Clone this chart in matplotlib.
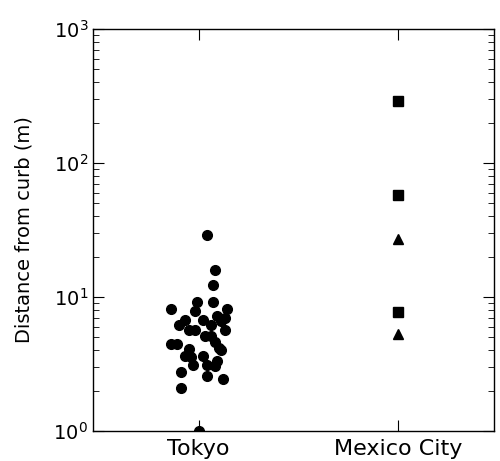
import numpy as np
import matplotlib
matplotlib.use("Agg")
import matplotlib.pyplot as plt

categories = ["Tokyo", "Mexico City"]

# Tokyo: jitter offset (x) and distance (m)
tokyo_dx = [0.04, 0.08, 0.07, -0.01, 0.07, -0.14, -0.02, 0.14, 0.09, 0.13,
            -0.07, 0.02, -0.10, 0.06, 0.11, -0.05, -0.02, 0.13, 0.03, 0.06,
            -0.14, -0.11, 0.08, 0.10, -0.05, 0.11, -0.07, -0.04, 0.02, 0.09,
            -0.03, 0.04, 0.08, -0.09, 0.04, 0.12, -0.09, 0.00]
tokyo_y = [29.0, 15.9, 12.3, 9.2, 9.2, 8.2, 7.9, 8.2, 7.2, 7.0,
           6.7, 6.7, 6.2, 6.2, 6.6, 5.65, 5.65, 5.65, 5.1, 5.1,
           4.5, 4.5, 4.6, 4.2, 4.1, 4.0, 3.64, 3.54, 3.6, 3.34,
           3.12, 3.12, 3.06, 2.74, 2.58, 2.44, 2.11, 1.0]

# Mexico City
mexico_sq = [290, 58, 7.7]
mexico_tri = [27, 5.3]

fig = plt.figure(figsize=(5.0, 4.61), dpi=100)
ax = fig.add_axes([0.186, 0.065, 0.802, 0.872])

ax.plot(1 + np.array(tokyo_dx), tokyo_y, 'o', color='k', ms=7, mec='k')
ax.plot([2] * len(mexico_sq), mexico_sq, 's', color='k', ms=6.5, mec='k')
ax.plot([2] * len(mexico_tri), mexico_tri, '^', color='k', ms=6.5, mec='k')

ax.set_yscale('log')
ax.set_ylim(1, 1000)
ax.set_xlim(0.47, 2.48)
ax.set_xticks([1, 2])
ax.set_xticklabels(categories, fontsize=16)
ax.set_ylabel('Distance from curb (m)', fontsize=14, labelpad=14)
ax.tick_params(which='both', direction='in', top=True, right=True)
ax.tick_params(which='major', length=8, labelsize=14)
ax.tick_params(axis='x', labelsize=16, pad=6)
ax.tick_params(which='minor', length=4)
for s in ax.spines.values():
    s.set_linewidth(1.0)

fig.savefig('out.png', dpi=100)
